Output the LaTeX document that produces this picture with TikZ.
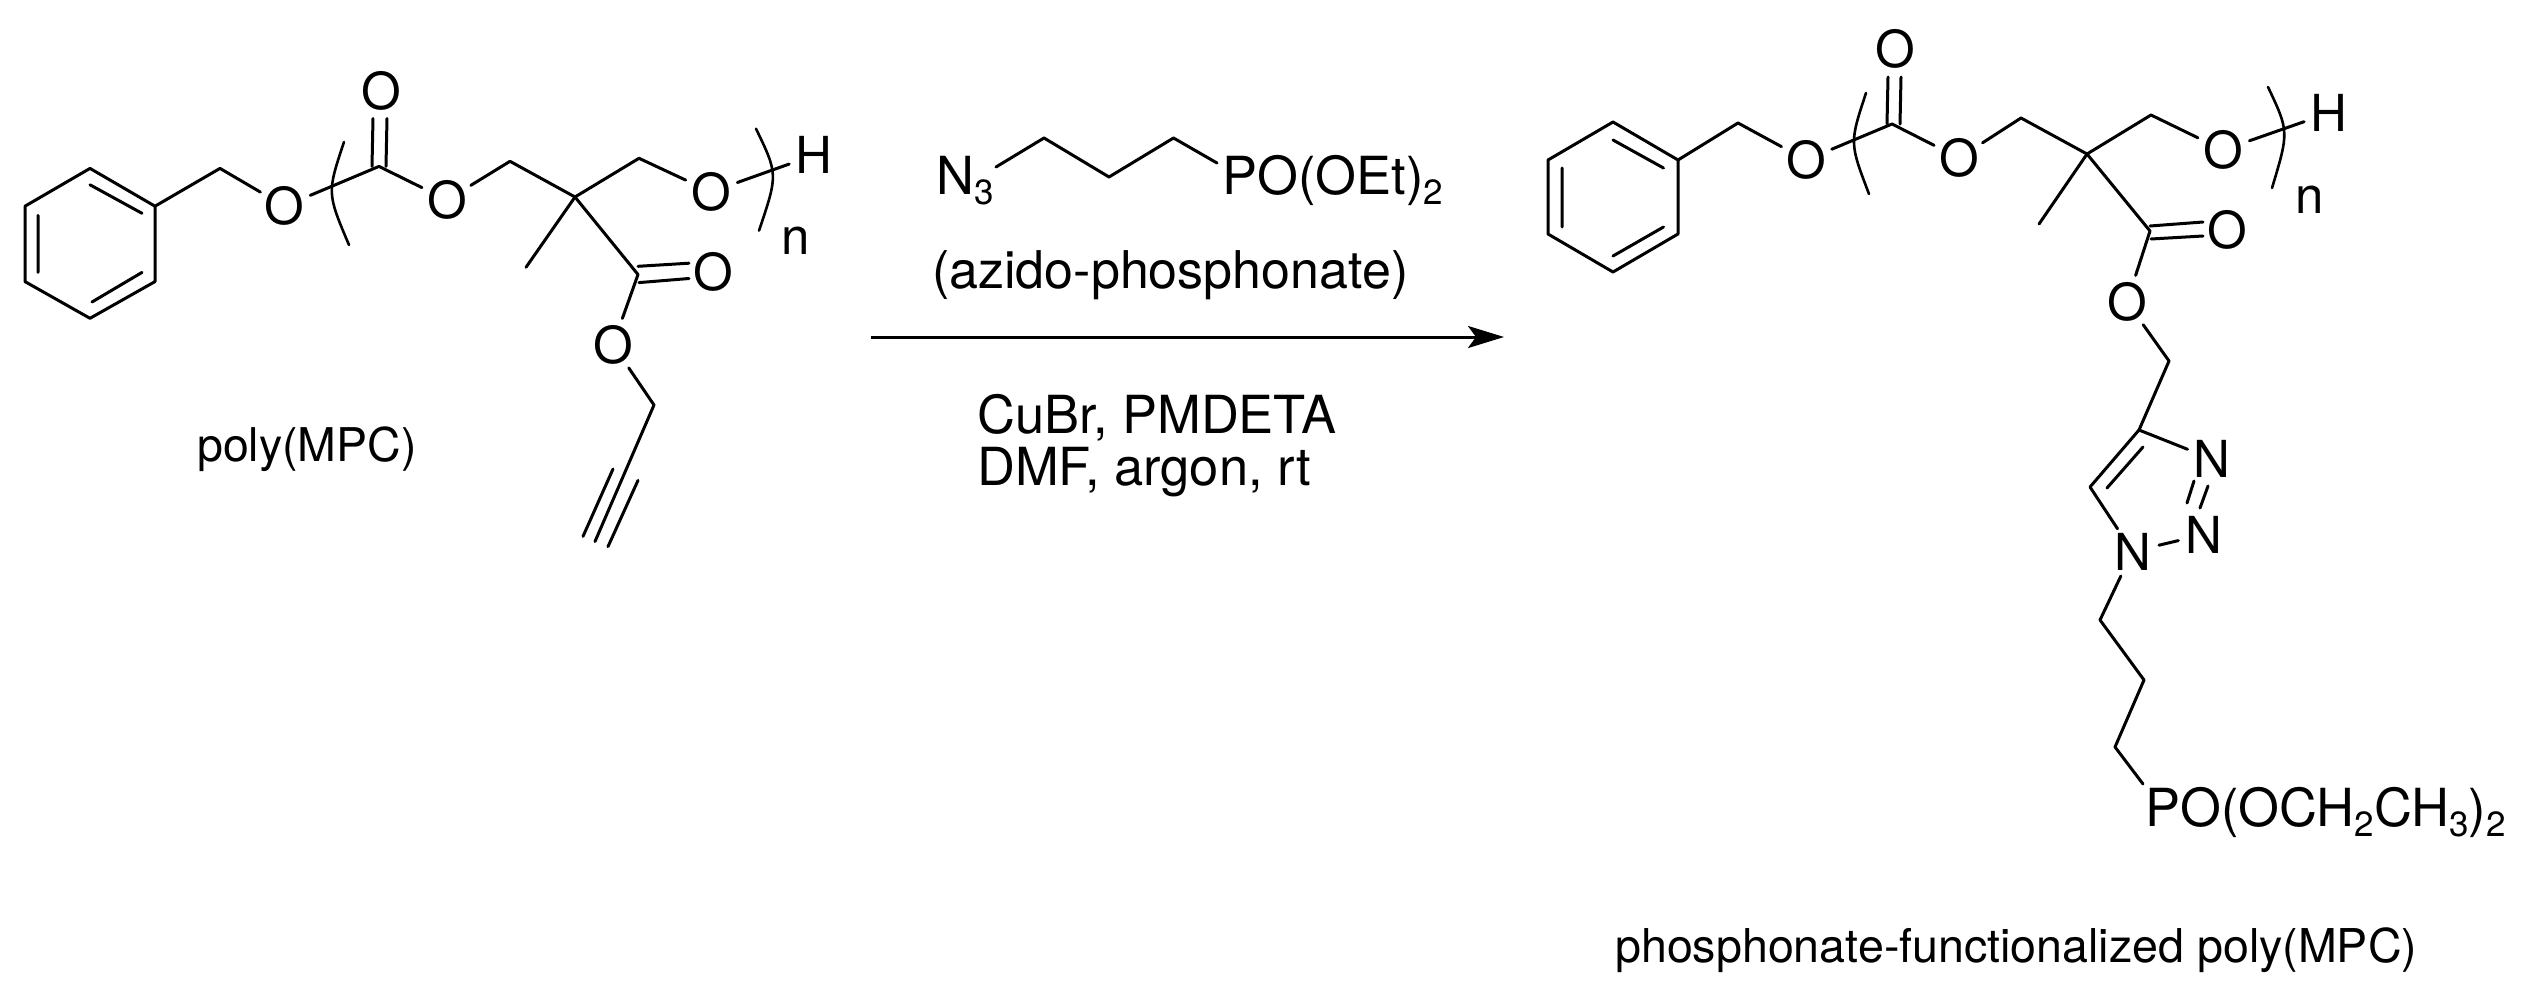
\documentclass[tikz,border=0pt]{standalone}
\usepackage{fontspec}
\setmainfont{TeX Gyre Heros}
\usetikzlibrary{arrows.meta}
\newcommand\sbs[1]{\raisebox{-0.2em}{\fontsize{35}{36}\selectfont #1}}
\tikzset{
  bond/.style={line width=3pt,line join=round,line cap=round},
  arc bracket/.style={line width=2.6pt,line cap=round},
  atom/.style={circle,inner sep=0pt,minimum size=54pt,font=\fontsize{51}{60}\selectfont},
  txt/.style={inner sep=0pt,anchor=base west,font=\fontsize{52.5}{60}\selectfont},
  lab/.style={inner sep=0pt,anchor=base west,font=\fontsize{46.5}{56}\selectfont},
}
\begin{document}
\begin{tikzpicture}[x=1pt,y=-1pt]
\useasboundingbox (0,0) rectangle (2541,991);
% ===== poly(MPC) =====
\coordinate (ar1) at (90,168.4);\coordinate (ar2) at (155,206.2);\coordinate (ar3) at (155,281.6);
\coordinate (ar4) at (90,318.3);\coordinate (ar5) at (25,281.6);\coordinate (ar6) at (25,206.2);
\coordinate (ai1) at (90,184.8);\coordinate (ai2) at (142,213.3);\coordinate (ai3) at (142,272.4);
\coordinate (ai4) at (92,302);\coordinate (ai5) at (38,272.4);\coordinate (ai6) at (38,215.3);
\coordinate (aCH) at (220,168.4);
\node[atom] (aO1) at (284.5,206.2) {O};
\coordinate (aC) at (379,166.4);
\node[atom] (aOt) at (381.5,91) {O};
\coordinate (aD1) at (373,118.5);\coordinate (aD2) at (372,166.4);
\coordinate (aD3) at (387,118.5);\coordinate (aD4) at (386,166.4);
\node[atom] (aO2) at (447,200) {O};
\coordinate (aCa) at (510,161.3);
\coordinate (aQ) at (575,197);
\coordinate (aCb) at (639,158.3);
\node[atom] (aO3) at (711,191.9) {O};
\node[atom,minimum size=40pt] (aH) at (814,155.2) {H};
\node[atom,minimum size=10pt] (an) at (796,241) {n};
\coordinate (aMe) at (526,267.3);
\coordinate (aCe) at (638,274.5);
\coordinate (aE1) at (638,266.3);\coordinate (aE2) at (689,263.2);
\coordinate (aE3) at (639,282.6);\coordinate (aE4) at (689,278.5);
\node[atom] (aOd) at (713.5,272.4) {O};
\node[atom] (aOs) at (613,344.8) {O};
\coordinate (aCp) at (654,405);
\coordinate (aT) at (595,541.5);
\coordinate (aT1) at (613,469);\coordinate (aT2) at (583,536.4);
\coordinate (aT3) at (638,480.4);\coordinate (aT4) at (608,546.6);
\coordinate (aBL1) at (344,142);\coordinate (aBL2) at (327,193);\coordinate (aBL3) at (349,245);
\coordinate (aBR1) at (756,128.7);\coordinate (aBR2) at (778,174.3);\coordinate (aBR3) at (759,230.6);
\draw[bond] (ar1)--(ar2)--(ar3)--(ar4)--(ar5)--(ar6)--cycle;
\draw[bond] (ai1)--(ai2) (ai3)--(ai4) (ai5)--(ai6);
\draw[bond] (ar2)--(aCH)--(aO1);
\draw[bond] (aO1)--(aC)--(aO2);
\draw[bond] (aD1)--(aD2) (aD3)--(aD4);
\draw[bond] (aO2)--(aCa)--(aQ)--(aCb)--(aO3);
\draw[bond] (aO3)--(aH);
\draw[bond] (aQ)--(aMe) (aQ)--(aCe)--(aOs)--(aCp)--(aT);
\draw[bond] (aE1)--(aE2) (aE3)--(aE4);
\draw[bond] (aT1)--(aT2) (aT3)--(aT4);
\draw[arc bracket] (aBL1) .. controls (aBL2) .. (aBL3);
\draw[arc bracket] (aBR1) .. controls (aBR2) .. (aBR3);
\node[lab] (aLab) at (197,461) {poly(MPC)};
% ===== reagent =====
\node[txt] (rN) at (936,194) {N\sbs{3}};
\coordinate (r0) at (996,167);\coordinate (r1) at (1044,138);\coordinate (r2) at (1109,177);
\coordinate (r3) at (1173.5,138);\coordinate (r4) at (1217,163);
\draw[bond] (r0)--(r1)--(r2)--(r3)--(r4);
\node[txt] (rP) at (1222,194) {PO(OEt)\sbs{2}};
\node[txt,font=\fontsize{52}{60}\selectfont] (rName) at (932,288) {(azido-phosphonate)};
\coordinate (arrS) at (870.5,337);\coordinate (arrE) at (1504,337);
\draw[line width=3pt,-{Stealth[length=36pt,width=22pt,inset=8pt]}] (arrS)--(arrE);
\node[txt] (rC1) at (977,433) {CuBr, PMDETA};
\node[txt] (rC2) at (977,485) {DMF, argon, rt};
% ===== product =====
\coordinate (br1) at (1613,122);\coordinate (br2) at (1678,160);\coordinate (br3) at (1678,234);
\coordinate (br4) at (1613,272);\coordinate (br5) at (1548,234);\coordinate (br6) at (1548,160);
\coordinate (bi1) at (1613,140);\coordinate (bi2) at (1663.5,168);\coordinate (bi3) at (1663.5,227);
\coordinate (bi4) at (1613,256);\coordinate (bi5) at (1562,227);\coordinate (bi6) at (1562,168);
\coordinate (bCH) at (1738,123);
\node[atom] (bO1) at (1806,160) {O};
\coordinate (bC) at (1892,124);
\node[atom] (bOt) at (1895,49) {O};
\coordinate (bD1) at (1888,77);\coordinate (bD2) at (1887,124);
\coordinate (bD3) at (1901,77);\coordinate (bD4) at (1900,124);
\node[atom] (bO2) at (1959,158) {O};
\coordinate (bCa) at (2021,118);
\coordinate (bQ) at (2087,154);
\coordinate (bCb) at (2151,115);
\node[atom] (bO3) at (2223,150) {O};
\node[atom,minimum size=40pt] (bH) at (2329,113) {H};
\node[atom,minimum size=10pt] (bn) at (2310,200) {n};
\coordinate (bMe) at (2039,224);
\coordinate (bCe) at (2150,231);
\coordinate (bE1) at (2150,226);\coordinate (bE2) at (2203,222);
\coordinate (bE3) at (2151,239);\coordinate (bE4) at (2203,236);
\node[atom] (bOd) at (2227,230) {O};
\node[atom] (bOs) at (2127,302) {O};
\coordinate (bCp) at (2169,361);
\coordinate (t4) at (2139,430);\coordinate (t5) at (2090,487);
\coordinate (ti1) at (2143,447);\coordinate (ti2) at (2107,488);
\node[atom,minimum size=50pt] (N3) at (2212,459) {N};
\node[atom,minimum size=50pt] (N2) at (2204,534.5) {N};
\node[atom,minimum size=54pt] (N1) at (2132.5,551.5) {N};
\coordinate (nd1) at (2194,481);\coordinate (nd2) at (2187,503);
\coordinate (nd3) at (2208,486);\coordinate (nd4) at (2200,508);
\coordinate (p1) at (2100,620);\coordinate (p2) at (2144,680);\coordinate (p3) at (2115,747);\coordinate (p4) at (2143,784);
\coordinate (bBL1) at (1866,93);\coordinate (bBL2) at (1849.5,143);\coordinate (bBL3) at (1869,194);
\coordinate (bBR1) at (2268,87);\coordinate (bBR2) at (2289,131.5);\coordinate (bBR3) at (2272,188);
\draw[bond] (br1)--(br2)--(br3)--(br4)--(br5)--(br6)--cycle;
\draw[bond] (bi1)--(bi2) (bi3)--(bi4) (bi5)--(bi6);
\draw[bond] (br2)--(bCH)--(bO1);
\draw[bond] (bO1)--(bC)--(bO2);
\draw[bond] (bD1)--(bD2) (bD3)--(bD4);
\draw[bond] (bO2)--(bCa)--(bQ)--(bCb)--(bO3);
\draw[bond] (bO3)--(bH);
\draw[bond] (bQ)--(bMe) (bQ)--(bCe)--(bOs)--(bCp)--(t4);
\draw[bond] (bE1)--(bE2) (bE3)--(bE4);
\draw[bond] (N3)--(t4)--(t5)--(N1);
\draw[bond] (ti1)--(ti2);
\draw[bond] (nd1)--(nd2) (nd3)--(nd4);
\draw[bond] (N2)--(N1);
\draw[bond] (N1)--(p1)--(p2)--(p3)--(p4);
\draw[arc bracket] (bBL1) .. controls (bBL2) .. (bBL3);
\draw[arc bracket] (bBR1) .. controls (bBR2) .. (bBR3);
\node[txt] (bP) at (2145,826) {PO(OCH\sbs{2}CH\sbs{3})\sbs{2}};
\node[lab,font=\fontsize{46.6}{56}\selectfont] (bLab) at (1615,962) {phosphonate-functionalized poly(MPC)};
\end{tikzpicture}
\end{document}
